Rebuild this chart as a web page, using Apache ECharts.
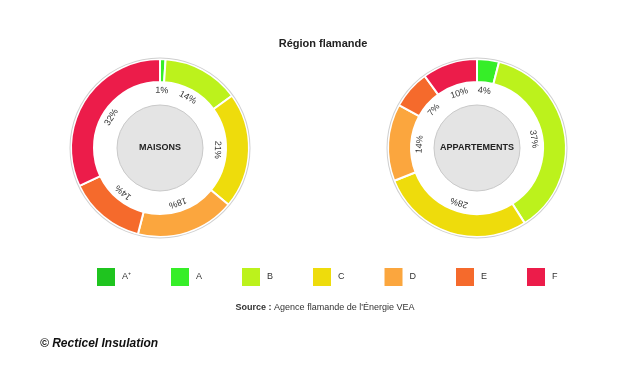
<!DOCTYPE html>
<html>
<head>
<meta charset="utf-8">
<script src="https://cdn.jsdelivr.net/npm/echarts@6/dist/echarts.min.js"></script>
<style>
  html, body { margin: 0; padding: 0; background: #fff; }
  #chart { width: 633px; height: 367px; }
</style>
</head>
<body>
<div id="chart"></div>
<script>
// energy classes (PEB) and their colours
const classes = ["A⁺", "A", "B", "C", "D", "E", "F"];
const classColors = ["#1fc41f", "#36ee28", "#bcf21c", "#eedc0c", "#fba63e", "#f56a2c", "#ec1c4a"];

// share of dwellings per class, in %
const maisons = [0, 1, 14, 21, 18, 14, 32];
const appartements = [0, 4, 37, 28, 14, 7, 10];

const donutNames = ["MAISONS", "APPARTEMENTS"];

const chart = echarts.init(document.getElementById("chart"));

function donut(name, values, center) {
  const total = values.reduce((a, b) => a + b, 0);
  let acc = 0;
  const labelData = values.map((v, i) => {
    const mid = (acc + v / 2) / total * 360;
    acc += v;
    return {
      name: classes[i],
      value: v,
      label: { show: v > 0, rotate: -mid }
    };
  });

  return [
    {
      type: "pie",
      name: name,
      center: center,
      radius: [66, 89],
      startAngle: 90,
      silent: true,
      label: { show: false },
      itemStyle: { borderColor: "#fff", borderWidth: 2 },
      data: values.map((v, i) => ({
        name: classes[i],
        value: v,
        itemStyle: { color: classColors[i] }
      }))
    },
    {
      // percent labels in the white gap
      type: "pie",
      center: center,
      radius: [45, 64],
      startAngle: 90,
      silent: true,
      itemStyle: { color: "rgba(0,0,0,0)" },
      label: {
        position: "inside",
        formatter: "{c}%",
        fontFamily: "Liberation Sans",
        fontSize: 9,
        color: "#333"
      },
      labelLine: { show: false },
      data: labelData
    },
    {
      // outer thin rim
      type: "pie",
      center: center,
      radius: [89.5, 90.5],
      silent: true,
      label: { show: false },
      itemStyle: { color: "#cfcfcf" },
      data: [{ name: "rim", value: 1 }]
    },
    {
      // grey hub
      type: "pie",
      center: center,
      radius: [0, 43],
      silent: true,
      itemStyle: { color: "#e4e4e4", borderColor: "#c9c9c9", borderWidth: 1 },
      label: {
        position: "center",
        formatter: name,
        fontFamily: "Liberation Sans",
        fontWeight: "bold",
        fontSize: 9,
        color: "#222"
      },
      labelLine: { show: false },
      data: [{ name: name, value: 1 }]
    }
  ];
}

chart.setOption({
  backgroundColor: "#fff",
  animation: false,
  title: [
    {
      text: "Région flamande",
      left: 318,
      top: 33,
      textAlign: "center",
      textStyle: { fontFamily: "Liberation Sans", fontSize: 11, fontWeight: "bold", color: "#222" }
    },
    {
      text: "{b|Source :} Agence flamande de l'Énergie VEA",
      left: 320,
      top: 298,
      textAlign: "center",
      textStyle: {
        fontFamily: "Liberation Sans",
        fontSize: 9,
        fontWeight: "normal",
        color: "#333",
        rich: { b: { fontFamily: "Liberation Sans", fontSize: 9, fontWeight: "bold", color: "#333" } }
      }
    },
    {
      text: "© Recticel Insulation",
      left: 35,
      top: 333,
      textStyle: { fontFamily: "Liberation Sans", fontSize: 12, fontWeight: "bold", fontStyle: "italic", color: "#111" }
    }
  ],
  legend: {
    data: classes,
    left: 92,
    top: 263,
    icon: "rect",
    itemWidth: 18,
    itemHeight: 18,
    itemGap: 40,
    itemStyle: { borderWidth: 0 },
    selectedMode: false,
    textStyle: { fontFamily: "Liberation Sans", fontSize: 9, color: "#333", padding: [0, 0, 0, 2] }
  },
  series: [
    ...donut(donutNames[0], maisons, [160, 148]),
    ...donut(donutNames[1], appartements, [477, 148])
  ]
});
</script>
</body>
</html>
